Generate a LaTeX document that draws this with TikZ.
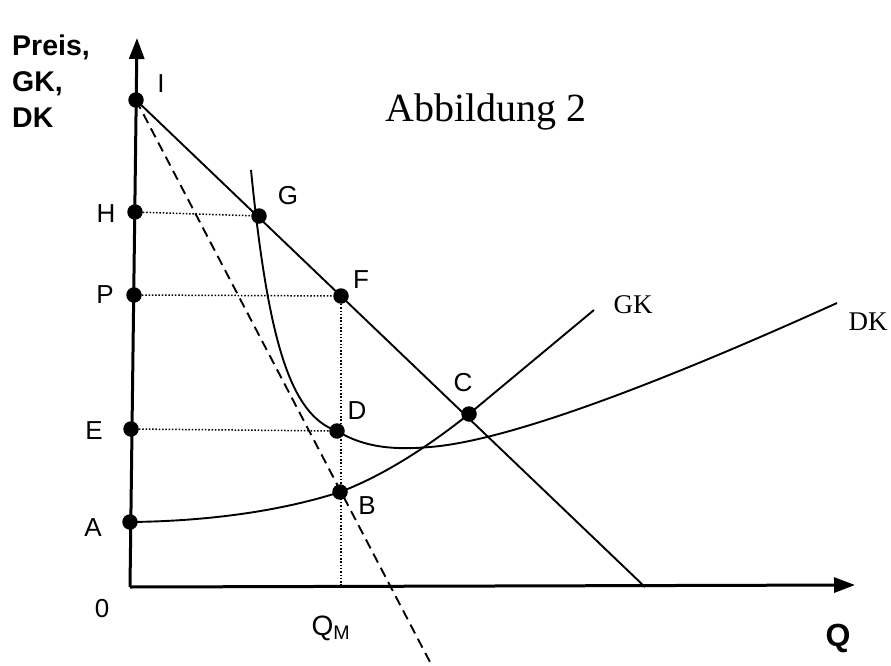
\documentclass[tikz,border=0pt]{standalone}
\usepackage{fontspec}
\setmainfont{Liberation Sans}
\newfontfamily\serifface{Liberation Serif}
\usepackage{tikz}
\usetikzlibrary{arrows.meta,calc,positioning}

\tikzset{
  dot/.style={circle,fill=black,inner sep=0pt,minimum size=15.5pt},
  lbl/.style={anchor=base,inner sep=0pt,font=\fontsize{26}{30}\selectfont},
  axislbl/.style={anchor=base west,inner sep=0pt,font=\bfseries\fontsize{28.5}{32}\selectfont},
  curvelbl/.style={anchor=base,inner sep=0pt,font=\serifface\fontsize{27}{30}\selectfont},
  axis/.style={line width=3pt,-{Triangle[length=21pt,width=15pt]}},
  curve/.style={line width=1.9pt},
  guide/.style={line width=1.5pt,dash pattern=on 1.5pt off 1.8pt},
}

\begin{document}
\begin{tikzpicture}[x=1pt,y=-1pt]
  \useasboundingbox (0,0) rectangle (891,666);
  % axes
  \coordinate (O) at (130,587);
  \coordinate (ytop) at (137,38);
  \coordinate (xend) at (855,585);
  \draw[axis] (O) -- (ytop);
  \draw[axis] (O) -- (xend);
  \node[axislbl] (ylab1) at (12,56) {Preis,};
  \node[axislbl] (ylab2) at (12,92) {GK,};
  \node[axislbl] (ylab3) at (12,128) {DK};
  \node[anchor=base,inner sep=0pt,font=\bfseries\fontsize{32}{34}\selectfont] (qlab) at (838,646) {Q};
  \node[lbl] (zero) at (102,617) {0};
  \node[lbl,font=\fontsize{28}{30}\selectfont] (qmlab) at (331,635) {Q\textsubscript{M}};
  \node[anchor=base,inner sep=0pt,font=\serifface\fontsize{40}{44}\selectfont] (title) at (486,122) {Abbildung 2};

  % points
  \node[dot] (I) at (136,100) {};
  \node[dot] (H) at (135,212) {};
  \node[dot] (P) at (134,295) {};
  \node[dot] (E) at (131,429) {};
  \node[dot] (A) at (130,522) {};
  \node[dot] (G) at (259,216) {};
  \node[dot] (F) at (341,296) {};
  \node[dot] (D) at (337,431) {};
  \node[dot] (C) at (469,414) {};
  \node[dot] (B) at (340,492) {};
  \coordinate (demend) at (645,587);
  \coordinate (mrend) at (430,662);
  \coordinate (dktop) at (251,170);
  \coordinate (dkmin) at (430,447);
  \coordinate (dkend) at (837,303);
  \coordinate (gkend) at (594,310);

  % dotted guides
  \draw[guide] (H) -- (G);
  \draw[guide] (P) -- (F);
  \draw[guide] (E) -- (D);
  \draw[guide] (F) -- (F |- O);

  % demand and marginal revenue
  \draw[curve] (I.center) -- (demend);
  \draw[curve,dash pattern=on 10pt off 6pt] (I.center) -- (mrend);

  % GK
  \draw[curve] (A.center) .. controls (230,521) and (300,505) .. (B.center)
    .. controls (385,475) and (430,445) .. (C.center) -- (gkend);
  \node[curvelbl] (gklab) at (633,313) {GK};

  % DK
  \draw[curve] (dktop) .. controls (268,340) and (290,415) .. (D.center)
    .. controls (365,448) and (395,450) .. (dkmin)
    .. controls (520,440) and (700,365) .. (dkend);
  \node[curvelbl] (dklab) at (868,330) {DK};

  % point labels
  \node[lbl] (Ilab) at (161,93) {I};
  \node[lbl] (Hlab) at (106,222) {H};
  \node[lbl] (Plab) at (105,303) {P};
  \node[lbl] (Elab) at (94,439) {E};
  \node[lbl] (Alab) at (93,536) {A};
  \node[lbl] (Glab) at (288,204) {G};
  \node[lbl] (Flab) at (361,288) {F};
  \node[lbl] (Dlab) at (357,419) {D};
  \node[lbl] (Clab) at (463,391) {C};
  \node[lbl] (Blab) at (367,514) {B};
\end{tikzpicture}
\end{document}
